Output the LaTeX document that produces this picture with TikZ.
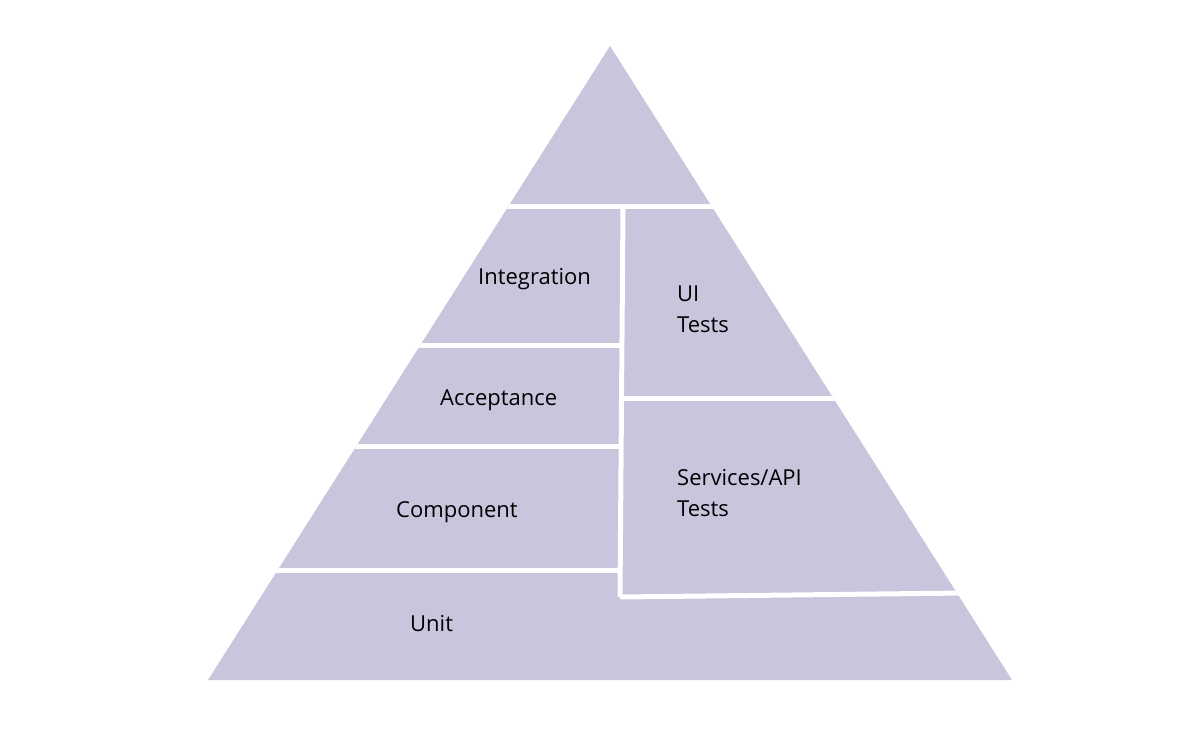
\documentclass[tikz,border=0pt]{standalone}
\usepackage{fontspec}
\setmainfont{Open Sans}
\definecolor{layer}{HTML}{C8C5DC}
\tikzset{gap/.style={white,line width=5pt},
         lbl/.style={anchor=west,align=left,inner sep=0pt,font=\fontsize{22}{31}\selectfont}}
\begin{document}
\begin{tikzpicture}[x=1pt,y=-1pt]
    \useasboundingbox (0,0) rectangle (1200,743);
    % pyramid
    \fill[layer] (610,46) -- (1012,680) -- (208,680) -- cycle;
    \begin{scope}
        \clip (610,46) -- (1012,680) -- (208,680) -- cycle;
        \draw[gap] (150,207) -- (1050,207);
        \draw[gap] (623,207) -- (620,597);
        \draw[gap] (150,346) -- (623,346);
        \draw[gap] (150,446) -- (622,446);
        \draw[gap] (150,570) -- (621,570);
        \draw[gap] (623,398) -- (1050,398);
        \draw[gap] (620,597) -- (1050,592);
    \end{scope}
    % labels
    \node[lbl] (integ) at (478,279) {Integration};
    \node[lbl] (ui) at (677,309) {UI\\Tests};
    \node[lbl] (accept) at (440,400) {Acceptance};
    \node[lbl] (comp) at (396,512) {Component};
    \node[lbl] (api) at (677,493) {Services/API\\Tests};
    \node[lbl] (unit) at (410,624) {Unit};
\end{tikzpicture}
\end{document}
